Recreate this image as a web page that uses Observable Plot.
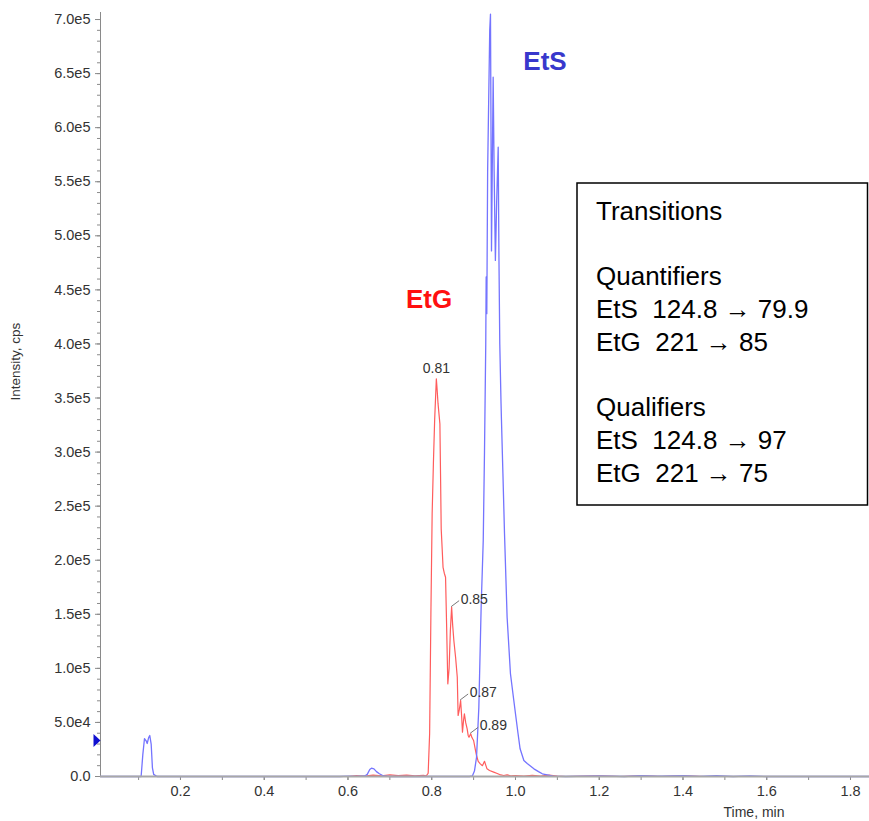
<!DOCTYPE html>
<html>
<head>
<meta charset="utf-8">
<script src="https://cdn.jsdelivr.net/npm/d3@7"></script>
<script src="https://cdn.jsdelivr.net/npm/@observablehq/plot@0.6"></script>
<style>
  html, body { margin: 0; padding: 0; background: #fff; }
  #chart { width: 869px; height: 821px; }
</style>
</head>
<body>
<div id="chart"></div>
<script>
// ---- Data ----
// EtS trace (blue): retention time (min) and intensity (cps)
const etsTime = [0.009, 0.100, 0.106, 0.110, 0.114, 0.118, 0.1205, 0.124, 0.1267, 0.130, 0.133, 0.136, 0.144,
  0.580, 0.600, 0.620, 0.640, 0.646, 0.652, 0.656, 0.662, 0.668, 0.675, 0.685, 0.700, 0.800, 0.860, 0.890,
  0.897, 0.902, 0.907, 0.9125, 0.918, 0.923, 0.926, 0.929, 0.930, 0.9315, 0.9335, 0.9385, 0.9403, 0.9415, 0.9427,
  0.9445, 0.9467, 0.949, 0.952, 0.955, 0.9587, 0.9605, 0.9625, 0.9655, 0.9665, 0.970, 0.9738, 0.980, 0.988,
  0.996, 1.000, 1.006, 1.011, 1.020, 1.028, 1.044, 1.055, 1.064, 1.090, 1.120, 1.200, 1.260, 1.300, 1.340,
  1.400, 1.440, 1.480, 1.520, 1.560, 1.600, 1.845];
const etsIntensity = [0, 0, 0, 20000, 34900, 33000, 30500, 36000, 37900, 30000, 8000, 2000, 0,
  0, 400, 200, 500, 2000, 6500, 7700, 7000, 4500, 2500, 500, 0, 0, 0, 0,
  500, 5000, 17800, 64100, 156600, 218200, 300000, 400000, 462000, 428000, 560000, 690000, 705000, 600000, 486000,
  560000, 646700, 560000, 477200, 530000, 581900, 480000, 400000, 345000, 330000, 280000, 224400, 147300, 95000,
  70300, 58000, 40000, 25600, 14800, 12000, 7100, 4500, 2500, 300, 0, 600, 0, 800, 300,
  900, 200, 700, 0, 500, 0, 0];

// EtG trace (red)
const etgTime = [0.009, 0.580, 0.600, 0.620, 0.640, 0.660, 0.680, 0.700, 0.720, 0.740, 0.760, 0.780, 0.787,
  0.7915, 0.795, 0.798, 0.801, 0.804, 0.807, 0.811, 0.8125, 0.815, 0.8195, 0.821, 0.8226, 0.825, 0.827, 0.830,
  0.833, 0.8355, 0.8384, 0.8415, 0.8445, 0.8475, 0.850, 0.8528, 0.857, 0.861, 0.863, 0.866, 0.869, 0.8715,
  0.8734, 0.876, 0.878, 0.881, 0.8846, 0.887, 0.889, 0.891, 0.893, 0.896, 0.900, 0.904, 0.907, 0.911, 0.916,
  0.921, 0.926, 0.929, 0.932, 0.938, 0.948, 0.955, 0.962, 0.972, 0.980, 0.990, 1.000, 1.020, 1.040, 1.060,
  1.080, 1.100, 1.120, 1.200, 1.250, 1.300, 1.350, 1.400, 1.450, 1.500, 1.845];
const etgIntensity = [0, 0, 0, 800, 300, 1200, 600, 1500, 800, 1200, 500, 1000, 600,
  3000, 40000, 150000, 242900, 290000, 330000, 367800, 360000, 345000, 326100, 280000, 229000, 210000, 193500, 188000,
  184300, 140000, 85700, 100000, 135000, 156600, 140000, 125800, 110000, 91800, 56400, 62000, 70300, 55000,
  41000, 52000, 58000, 50000, 44100, 38000, 36300, 38000, 39500, 36000, 33300, 25000, 19400, 14000, 11700,
  10000, 14100, 10500, 7100, 5500, 4000, 3000, 1800, 900, 1500, 500, 800, 300, 1000, 400,
  1200, 300, 0, 700, 0, 600, 0, 500, 0, 0, 0];

// Peak annotations on the EtG trace
const peakTime = [0.811, 0.8475, 0.869, 0.893];
const peakHeight = [367800, 156600, 70300, 39500];
const peakLabel = ["0.81", "0.85", "0.87", "0.89"];

// Compound labels
const compoundName = ["EtG", "EtS"];
const compoundTime = [0.7935, 1.0705];
const compoundLevel = [441000, 661000];

// Threshold marker on the intensity axis
const markerLevel = [33300];

// Axes
const xDomain = [0.009, 1.8454];
const yDomain = [0, 706500];
const xTickAll = [0.1, 0.2, 0.3, 0.4, 0.5, 0.6, 0.7, 0.8, 0.9, 1.0, 1.1, 1.2, 1.3, 1.4, 1.5, 1.6, 1.7, 1.8];
const xTickLabeled = [0.2, 0.4, 0.6, 0.8, 1.0, 1.2, 1.4, 1.6, 1.8];
const yTickMajor = [0, 50000, 100000, 150000, 200000, 250000, 300000, 350000, 400000, 450000, 500000, 550000, 600000, 650000, 700000];
const yTickMinor = d3.range(0, 700001, 10000);

// Legend text
const legendLines = ["Transitions", "", "Quantifiers", "EtS  124.8 \u2192 79.9", "EtG  221 \u2192 85", "", "Qualifiers", "EtS  124.8 \u2192 97", "EtG  221 \u2192 75"];

// ---- Build tables ----
const ets = etsTime.map((t, i) => ({t, v: etsIntensity[i]}));
const etg = etgTime.map((t, i) => ({t, v: etgIntensity[i]}));
const peaks = peakTime.map((t, i) => ({t, v: peakHeight[i], label: peakLabel[i]}));
const compounds = compoundName.map((n, i) => ({n, t: compoundTime[i], v: compoundLevel[i]}));

const yFmt = d => d === 0 ? "0.0" : d3.format(".1e")(d).replace("e+", "e");
const font = "'Liberation Sans', Arial, sans-serif";
const axisGray = "#8a8a8a";

const markerSymbol = {
  draw(ctx) { ctx.moveTo(-7, -6.5); ctx.lineTo(0, 0); ctx.lineTo(-7, 6.5); ctx.closePath(); }
};

const chart = Plot.plot({
  width: 869,
  height: 821,
  marginLeft: 100,
  marginRight: 0,
  marginTop: 12,
  marginBottom: 45,
  style: {fontFamily: font, fontSize: "14px", color: "#333", background: "#fff"},
  x: {domain: xDomain},
  y: {domain: yDomain},
  marks: [
    Plot.axisY({ticks: yTickMinor, tickSize: 3, text: null, stroke: axisGray, label: null}),
    Plot.axisY({ticks: yTickMajor, tickSize: 5, tickPadding: 5, tickFormat: yFmt, stroke: axisGray, fill: "#333", fontSize: 14.5, label: null}),
    Plot.axisX({ticks: xTickAll, tickSize: 4, text: null, stroke: axisGray, label: null}),
    Plot.axisX({ticks: xTickLabeled, tickSize: 4, tickPadding: 5, tickFormat: d3.format(".1f"), stroke: axisGray, fill: "#333", fontSize: 14.5, label: null}),
    Plot.ruleX([xDomain[0]], {stroke: axisGray, strokeWidth: 1}),
    Plot.line(etg, {x: "t", y: "v", stroke: "#ff5c5c", strokeWidth: 1.2}),
    Plot.line(ets, {x: "t", y: "v", stroke: "#7474ff", strokeWidth: 1.3}),
    Plot.ruleY([0], {stroke: "#a8a8a8", strokeWidth: 2}),
    Plot.dot(markerLevel, {x: () => xDomain[0], y: d => d, symbol: markerSymbol, fill: "#1010d0", stroke: null, r: 4}),
    Plot.text(peaks.slice(0, 1), {x: "t", y: "v", text: "label", dy: -10, fill: "#333", fontSize: 14}),
    Plot.text(peaks.slice(1), {x: "t", y: "v", text: "label", dx: 9, dy: -8, textAnchor: "start", fill: "#333", fontSize: 14}),
    Plot.text(compounds, {x: "t", y: "v", text: "n", fill: d => d.n === "EtG" ? "#ff1010" : "#3838cc", fontWeight: "bold", fontSize: 26}),
    Plot.text(["Intensity, cps"], {frameAnchor: "left", rotate: -90, dx: -85, dy: 6, fill: "#333", fontSize: 13.5}),
    Plot.text(["Time, min"], {frameAnchor: "bottom-right", textAnchor: "end", lineAnchor: "middle", dx: -85, dy: 36, fill: "#333", fontSize: 14})
  ]
});

document.getElementById("chart").appendChild(chart);

// Leader lines from peaks to their labels, using the plot's own scales
const sx = chart.scale("x"), sy = chart.scale("y");
const svg = d3.select(chart);
svg.append("g")
  .selectAll("line")
  .data(peaks.slice(1))
  .join("line")
  .attr("x1", d => sx.apply(d.t))
  .attr("y1", d => sy.apply(d.v))
  .attr("x2", d => sx.apply(d.t) + 8)
  .attr("y2", d => sy.apply(d.v) - 6)
  .attr("stroke", "#777")
  .attr("stroke-width", 1);

// Transitions legend box
const lg = svg.append("g")
  .attr("font-family", font)
  .attr("font-size", 26)
  .attr("fill", "#000")
  .attr("text-anchor", "start");
lg.append("rect")
  .attr("x", 577).attr("y", 183).attr("width", 290.5).attr("height", 322)
  .attr("fill", "#fff").attr("stroke", "#000").attr("stroke-width", 1.5);
lg.selectAll("text")
  .data(legendLines)
  .join("text")
  .attr("x", 596)
  .attr("y", (d, i) => 220 + i * 32.7)
  .attr("text-anchor", "start")
  .text(d => d);
</script>
</body>
</html>
